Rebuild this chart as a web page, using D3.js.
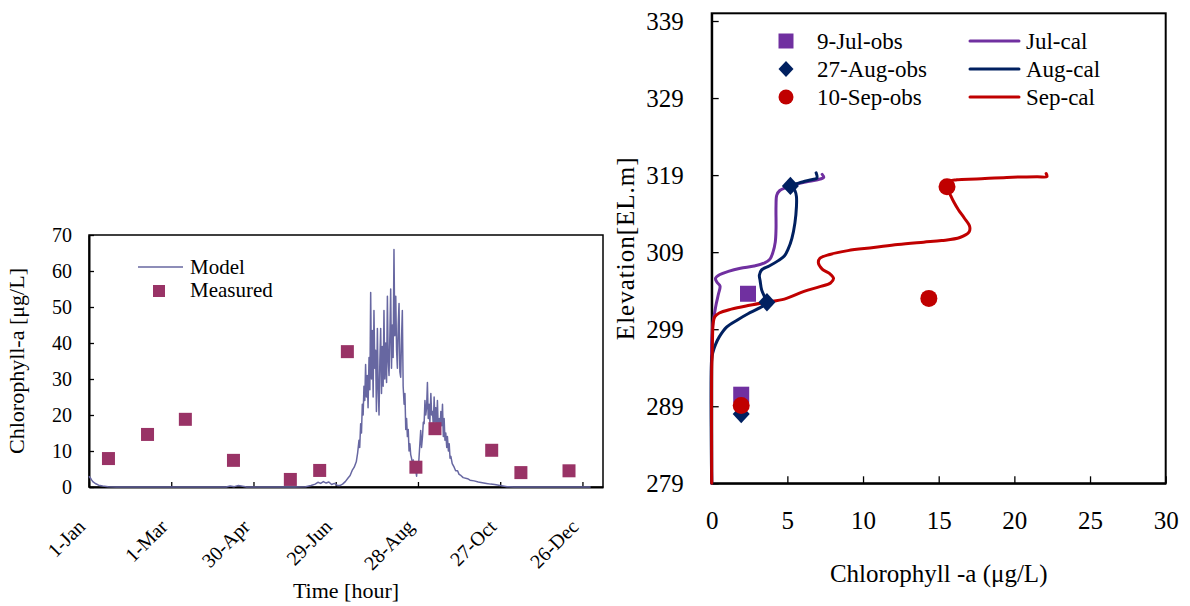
<!DOCTYPE html>
<html>
<head>
<meta charset="utf-8">
<script src="https://cdn.jsdelivr.net/npm/d3@7"></script>
<style>
  body { margin: 0; background: #fff; }
</style>
</head>
<body>
<div id="chart"></div>
<script>
// ---- left panel: time series ----
const dateTicks = ['1-Jan', '1-Mar', '30-Apr', '29-Jun', '28-Aug', '27-Oct', '26-Dec'];
const chlTicks = [0, 10, 20, 30, 40, 50, 60, 70];
// [day of year, chl-a ug/L]
const modelSeries = [
  [0, 3.0], [1, 2.5], [2, 1.9], [3, 1.4], [5, 0.9], [7, 0.5], [10, 0.25], [14, 0.1], [20, 0],
  [100, 0], [103, 0.3], [106, 0.1], [109, 0.4], [112, 0.2], [115, 0], [150, 0], [158, 0.1],
  [162, 0.4], [165, 0.8], [167, 1.3], [169, 1.0], [171, 1.5], [173, 1.1], [175, 1.4], [177, 0.7],
  [179, 1.0], [181, 0.5], [183, 0.4], [185, 0.8], [187, 1.5], [189, 2.5], [190.5, 3.2], [192, 4.6],
  [193.5, 5.5], [195, 7.0], [196, 9.5], [197, 13], [197.5, 11], [198.2, 17.6], [198.8, 15],
  [199.4, 23], [200, 20], [200.6, 28], [201.2, 24], [201.8, 34], [202.4, 25], [203, 31],
  [203.6, 22], [204.3, 36], [204.9, 27], [205.5, 54], [206.1, 30], [206.7, 43.5], [207.3, 25],
  [207.9, 49], [208.5, 33], [209.1, 38], [209.7, 21], [210.4, 44], [211, 27], [211.6, 20],
  [212.2, 35], [212.8, 44], [213.4, 26], [214, 39], [214.6, 28], [215.2, 49], [215.8, 30],
  [216.5, 40], [217.1, 29], [217.7, 53], [218.3, 35], [218.9, 31], [219.5, 42], [220.1, 55],
  [220.7, 33], [221.3, 45], [221.9, 36], [222.5, 66], [223.1, 42], [223.8, 53], [224.4, 38],
  [225, 33], [225.6, 45], [226.2, 51], [226.8, 32], [227.4, 30.5], [228, 41], [228.6, 49],
  [229.2, 28], [229.9, 23], [230.5, 26], [231.1, 16], [231.7, 19], [232.3, 14], [232.9, 16],
  [233.5, 10], [234.1, 12], [234.7, 9], [235.3, 8], [236, 6.5], [236.6, 7.5], [237.2, 5],
  [237.8, 6.8], [238.4, 4.6], [239, 3], [239.6, 6], [240.2, 5], [240.8, 8.3], [241.4, 12],
  [242, 15.7], [242.6, 11], [243.3, 14], [243.9, 18], [244.5, 17.6], [245.1, 24], [245.7, 20],
  [246.3, 22], [246.9, 29], [247.5, 19], [248.1, 23], [248.7, 18], [249.4, 26], [250, 20],
  [250.6, 21], [251.2, 17], [251.8, 25], [252.4, 18], [253, 22], [253.6, 17], [254.2, 24],
  [254.8, 16], [255.5, 19], [256.1, 15], [256.7, 21], [257.3, 17], [257.9, 23], [258.5, 14],
  [259.1, 19], [259.7, 13], [260.3, 15], [261, 11], [261.5, 14], [262.2, 10], [262.8, 12],
  [263.4, 8], [264, 8.5], [265, 6.5], [266.4, 5.5], [267.5, 4.5], [268.9, 4.5], [270, 3.5],
  [271.3, 3.2], [273, 2.6], [276.2, 2.3], [278, 1.9], [281, 1.7], [284, 1.4], [287, 1.2],
  [290, 1.0], [293, 0.8], [296, 0.7], [299, 0.5], [302, 0.3], [305, 0.1], [310, 0], [366, 0]
];
const measuredDays = [14.2, 42.7, 70.3, 105.4, 146.9, 168.3, 188.5, 238.5, 252.4, 293.8, 315.1, 350.2];
const measuredChl = [7.9, 14.6, 18.8, 7.4, 2.1, 4.6, 37.6, 5.5, 16.2, 10.2, 4.0, 4.5];

// ---- right panel: vertical profiles [chl-a, elevation] ----
const elevTicks = [279, 289, 299, 309, 319, 329, 339];
const profileTicks = [0, 5, 10, 15, 20, 25, 30];
const obsNames = ['9-Jul-obs', '27-Aug-obs', '10-Sep-obs'];
const calNames = ['Jul-cal', 'Aug-cal', 'Sep-cal'];
const julObs = [[2.4, 303.6], [1.95, 290.5]];
const augObs = [[5.2, 317.6], [3.65, 302.5], [1.95, 288.0]];
const sepObs = [[15.55, 317.5], [14.35, 303.0], [1.95, 289.1]];
const julCal = [
  [7.3, 319.1], [7.4, 318.7], [7.0, 318.4], [6.2, 318.1], [5.2, 317.6], [4.5, 317.0], [4.3, 316.4],
  [4.25, 315.0], [4.25, 312.0], [4.2, 310.3], [4.05, 309.0], [3.85, 308.1], [3.5, 307.6], [2.8, 307.2],
  [1.9, 306.9], [1.1, 306.5], [0.55, 306.1], [0.25, 305.6], [0.35, 305.1], [0.55, 304.6], [0.45, 303.6],
  [0.3, 302.3], [0.2, 301.2], [0.08, 299.8], [0.03, 298.5], [0, 297.5], [0, 279]
];
const augCal = [
  [6.9, 319.3], [6.95, 318.6], [6.6, 318.4], [6.0, 318.1], [5.3, 317.6], [5.5, 317.0], [5.6, 316.2],
  [5.6, 314.9], [5.5, 312.8], [5.3, 310.8], [5.05, 309.4], [4.8, 308.5], [4.4, 307.9], [3.8, 307.2],
  [3.3, 306.7], [3.15, 306.0], [3.2, 305.3], [3.3, 304.1], [3.5, 303.2], [3.7, 302.5], [3.1, 301.7],
  [2.4, 301.0], [1.7, 300.2], [1.0, 299.3], [0.5, 298.0], [0.25, 297.0], [0.08, 296.0], [0, 295.2], [0, 279]
];
const sepCal = [
  [22.1, 319.2], [22.15, 318.8], [21.5, 318.8], [19.5, 318.7], [17.5, 318.5], [16.2, 318.4], [15.6, 318.1],
  [15.6, 317.3], [15.8, 316.3], [16.0, 315.5], [16.3, 314.5], [16.7, 313.4], [17.05, 312.3], [17.0, 311.6],
  [16.4, 310.9], [15.2, 310.5], [14.0, 310.3], [12.3, 310.0], [10.7, 309.6], [9.0, 309.2], [7.8, 308.7],
  [7.15, 308.2], [7.05, 307.6], [7.3, 306.8], [7.8, 306.2], [8.05, 305.6], [7.85, 305.0], [7.1, 304.5],
  [6.1, 303.9], [4.8, 302.9], [3.6, 302.5], [2.5, 302.1], [1.3, 301.6], [0.5, 301.1], [0.2, 300.6],
  [0.1, 299.8], [0.05, 297.5], [0.03, 295.5], [0, 294.2], [0, 279]
];

const serif = '"Liberation Serif"';
const modelColor = '#6767a1';
const measuredColor = '#993366';
const monthColors = ['#7030a0', '#002060', '#c00000'];

const svg = d3.select('#chart').append('svg')
  .attr('width', 1190)
  .attr('height', 606);

function styleAxis(g, width, size) {
  g.attr('font-family', null).attr('font-size', null);
  g.select('.domain').attr('stroke', '#000').attr('stroke-width', width);
  g.selectAll('.tick line').attr('stroke', '#000').attr('stroke-width', 1.3);
  g.selectAll('.tick text').attr('fill', '#000').attr('font-family', serif).attr('font-size', size);
}

function label(parent, size) {
  return parent.append('text').attr('font-family', serif).attr('font-size', size).attr('fill', '#000');
}

// ===== left chart =====
const x1 = d3.scaleLinear().domain([0, 9000]).range([89, 603]);
const y1 = d3.scaleLinear().domain([0, 70]).range([487, 235]);

svg.append('rect')
  .attr('x', x1(0)).attr('y', y1(70))
  .attr('width', x1(9000) - x1(0)).attr('height', y1(0) - y1(70))
  .attr('fill', 'none').attr('stroke', '#000').attr('stroke-width', 1.5);

const gy1 = svg.append('g')
  .attr('transform', `translate(${x1(0)},0)`)
  .call(d3.axisLeft(y1).tickValues(chlTicks).tickSize(-5).tickSizeOuter(0).tickPadding(17));
styleAxis(gy1, 2, 20);

const gx1 = svg.append('g')
  .attr('transform', `translate(0,${y1(0)})`)
  .call(d3.axisBottom(x1).tickValues(d3.range(0, 8641, 1440)).tickFormat((d, i) => dateTicks[i])
    .tickSize(-5).tickSizeOuter(0));
styleAxis(gx1, 2, 20);
gx1.selectAll('.tick text')
  .attr('x', 0).attr('y', 0).attr('dy', '0.35em')
  .attr('text-anchor', 'end')
  .attr('transform', 'translate(-8,36) rotate(-45)');

svg.append('path')
  .datum(modelSeries)
  .attr('fill', 'none')
  .attr('stroke', modelColor)
  .attr('stroke-width', 1.5)
  .attr('stroke-linejoin', 'round')
  .attr('d', d3.line().x(d => x1(d[0] * 24)).y(d => y1(d[1])));

svg.append('g').selectAll('rect')
  .data(measuredDays.map((d, i) => [d, measuredChl[i]]))
  .enter().append('rect')
  .attr('x', d => x1(d[0] * 24) - 6.5)
  .attr('y', d => y1(d[1]) - 6.5)
  .attr('width', 13).attr('height', 13)
  .attr('fill', measuredColor);

// legend
const leg1 = svg.append('g');
leg1.append('line').attr('x1', 138).attr('x2', 183).attr('y1', 267).attr('y2', 267)
  .attr('stroke', modelColor).attr('stroke-width', 1.5);
label(leg1, 21).attr('x', 190).attr('y', 274).text('Model');
leg1.append('rect').attr('x', 153).attr('y', 285).attr('width', 12).attr('height', 12).attr('fill', measuredColor);
label(leg1, 21).attr('x', 190).attr('y', 297).text('Measured');

label(svg, 22)
  .attr('transform', `translate(24,${(y1(0) + y1(70)) / 2}) rotate(-90)`)
  .attr('text-anchor', 'middle')
  .text('Chlorophyll-a [μg/L]');
label(svg, 22)
  .attr('x', (x1(0) + x1(9000)) / 2).attr('y', 598)
  .attr('text-anchor', 'middle')
  .text('Time [hour]');

// ===== right chart =====
const x2 = d3.scaleLinear().domain([0, 30]).range([711.7, 1165.7]);
const y2 = d3.scaleLinear().domain([279, 340]).range([483.3, 13.3]);

svg.append('rect')
  .attr('x', x2(0)).attr('y', y2(340))
  .attr('width', x2(30) - x2(0)).attr('height', y2(279) - y2(340))
  .attr('fill', 'none').attr('stroke', '#000').attr('stroke-width', 2);

const gy2 = svg.append('g')
  .attr('transform', `translate(${x2(0)},0)`)
  .call(d3.axisLeft(y2).tickValues(elevTicks).tickSize(-7).tickSizeOuter(0).tickPadding(28));
styleAxis(gy2, 2, 25);

const gx2 = svg.append('g')
  .attr('transform', `translate(0,${y2(279)})`)
  .call(d3.axisBottom(x2).tickValues(profileTicks).tickSize(-7).tickSizeOuter(0).tickPadding(28));
styleAxis(gx2, 2, 25);

[julCal, augCal, sepCal].forEach((series, i) => {
  svg.append('path')
    .datum(series)
    .attr('fill', 'none')
    .attr('stroke', monthColors[i])
    .attr('stroke-width', 3)
    .attr('stroke-linejoin', 'round')
    .attr('stroke-linecap', 'round')
    .attr('d', d3.line().x(d => x2(d[0])).y(d => y2(d[1])).curve(d3.curveCatmullRom.alpha(0.5)));
});

function circlePath(s) {
  const p = d3.path();
  p.arc(0, 0, s, 0, 2 * Math.PI);
  return p.toString();
}
const markerPath = [
  s => `M${-s},${-s}H${s}V${s}H${-s}Z`,
  s => `M0,${-s * 1.08}L${s},0L0,${s * 1.08}L${-s},0Z`,
  circlePath
];
const markerSize = [8, 8.5, 8.5];

[julObs, augObs, sepObs].forEach((series, i) => {
  svg.append('g').selectAll('path')
    .data(series)
    .enter().append('path')
    .attr('transform', d => `translate(${x2(d[0])},${y2(d[1])})`)
    .attr('d', markerPath[i](markerSize[i]))
    .attr('fill', monthColors[i]);
});

// legend
const leg2 = svg.append('g');
obsNames.forEach((name, i) => {
  const yy = 41 + i * 28;
  leg2.append('path')
    .attr('transform', `translate(786,${yy})`)
    .attr('d', markerPath[i](7.5))
    .attr('fill', monthColors[i]);
  label(leg2, 23).attr('x', 817).attr('y', yy + 8).text(name);
  leg2.append('line').attr('x1', 970).attr('x2', 1019).attr('y1', yy).attr('y2', yy)
    .attr('stroke', monthColors[i]).attr('stroke-width', 3).attr('stroke-linecap', 'round');
  label(leg2, 23).attr('x', 1026).attr('y', yy + 8).text(calNames[i]);
});

label(svg, 25)
  .attr('transform', `translate(634,${(y2(279) + y2(340)) / 2}) rotate(-90)`)
  .attr('text-anchor', 'middle')
  .attr('letter-spacing', 1)
  .text('Elevation[EL.m]');
label(svg, 25)
  .attr('x', (x2(0) + x2(30)) / 2).attr('y', 582)
  .attr('text-anchor', 'middle')
  .text('Chlorophyll -a (μg/L)');
</script>
</body>
</html>
